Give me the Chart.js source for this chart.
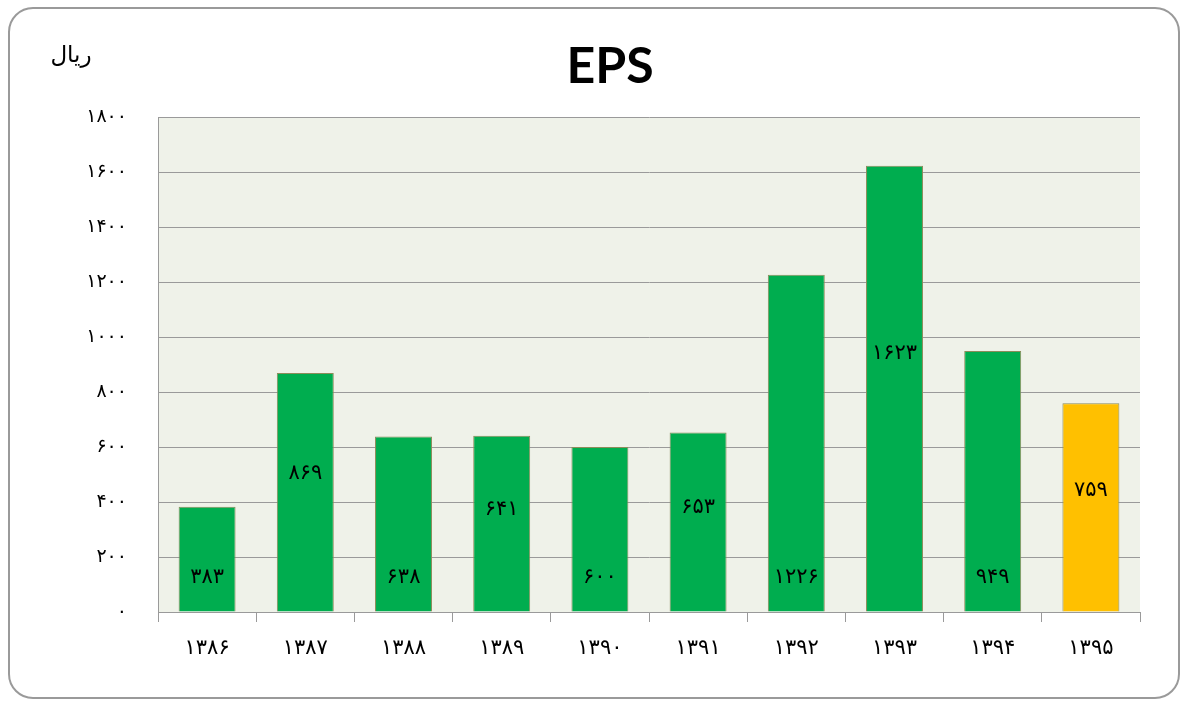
<!DOCTYPE html>
<html>
<head>
  <title>EPS</title>
  <script src="https://cdn.jsdelivr.net/npm/chart.js"></script>
  <style>
    html, body { margin: 0; padding: 0; background: #ffffff; }
    #wrap { width: 1187px; height: 704px; }
  </style>
</head>
<body>
  <div id="wrap"><canvas id="epsChart" width="1187" height="704"></canvas></div>

  <script>
    const years = ["۱۳۸۶", "۱۳۸۷", "۱۳۸۸", "۱۳۸۹", "۱۳۹۰", "۱۳۹۱", "۱۳۹۲", "۱۳۹۳", "۱۳۹۴", "۱۳۹۵"];
    const epsValues = [383, 869, 638, 641, 600, 653, 1226, 1623, 949, 759];
    const barColors = ["#00AD4F", "#00AD4F", "#00AD4F", "#00AD4F", "#00AD4F", "#00AD4F", "#00AD4F", "#00AD4F", "#00AD4F", "#FFC000"];
    const unitLabel = "ریال";

    const faDigits = "۰۱۲۳۴۵۶۷۸۹";
    function toFa(n) {
      return String(n).replace(/[0-9]/g, d => faDigits[d]);
    }

    const faFont = "'DejaVu Sans', sans-serif";

    // frame, plot background, unit text and bar labels
    const decorPlugin = {
      id: "decor",
      beforeDraw(chart) {
        const c = chart.ctx;
        const a = chart.chartArea;
        c.save();
        c.fillStyle = "#ffffff";
        c.fillRect(0, 0, chart.width, chart.height);
        c.beginPath();
        c.roundRect(9, 8, 1170, 690, 24);
        c.strokeStyle = "#9a9a9a";
        c.lineWidth = 2;
        c.stroke();
        c.fillStyle = "#EFF2E9";
        c.fillRect(a.left, a.top, a.right - a.left, a.bottom - a.top);
        c.restore();
      },
      afterDatasetsDraw(chart) {
        const c = chart.ctx;
        const meta = chart.getDatasetMeta(0);
        const yScale = chart.scales.y;
        c.save();
        c.font = "21px " + faFont;
        c.fillStyle = "#000000";
        c.textAlign = "center";
        c.textBaseline = "middle";
        meta.data.forEach((bar, i) => {
          const v = epsValues[i];
          const y = i % 2 === 0 ? yScale.bottom - 34 : yScale.getPixelForValue(v * 0.58);
          c.fillText(toFa(v), bar.x, y);
        });
        c.font = "23px " + faFont;
        c.fillText(unitLabel, 71, 56);
        c.restore();
      }
    };

    new Chart(document.getElementById("epsChart"), {
      type: "bar",
      data: {
        labels: years,
        datasets: [{
          data: epsValues,
          backgroundColor: barColors,
          borderColor: "#8C8C5A",
          borderWidth: 1,
          categoryPercentage: 1,
          barPercentage: 0.58
        }]
      },
      options: {
        responsive: false,
        animation: false,
        layout: { padding: { left: 80, right: 47, top: 0, bottom: 0 } },
        plugins: {
          legend: { display: false },
          tooltip: { enabled: false },
          title: {
            display: true,
            text: "EPS",
            color: "#000000",
            font: { family: "Lato, 'Open Sans', sans-serif", size: 50, weight: "bold", lineHeight: 1.2 },
            padding: { top: 37, bottom: 20 }
          }
        },
        scales: {
          x: {
            grid: { offset: true, drawOnChartArea: false, color: "#9a9a9a", tickLength: 10 },
            border: { color: "#9a9a9a" },
            ticks: { color: "#000000", font: { family: faFont, size: 21 }, padding: 14 },
            afterFit(scale) { scale.height = 92; }
          },
          y: {
            min: 0,
            max: 1800,
            grid: { color: "#9a9a9a", drawTicks: false },
            border: { color: "#9a9a9a" },
            ticks: {
              stepSize: 200,
              color: "#000000",
              padding: 31,
              font: { family: faFont, size: 19 },
              callback: v => toFa(v)
            },
            afterFit(scale) { scale.width = 78; }
          }
        }
      },
      plugins: [decorPlugin]
    });
  </script>
</body>
</html>
